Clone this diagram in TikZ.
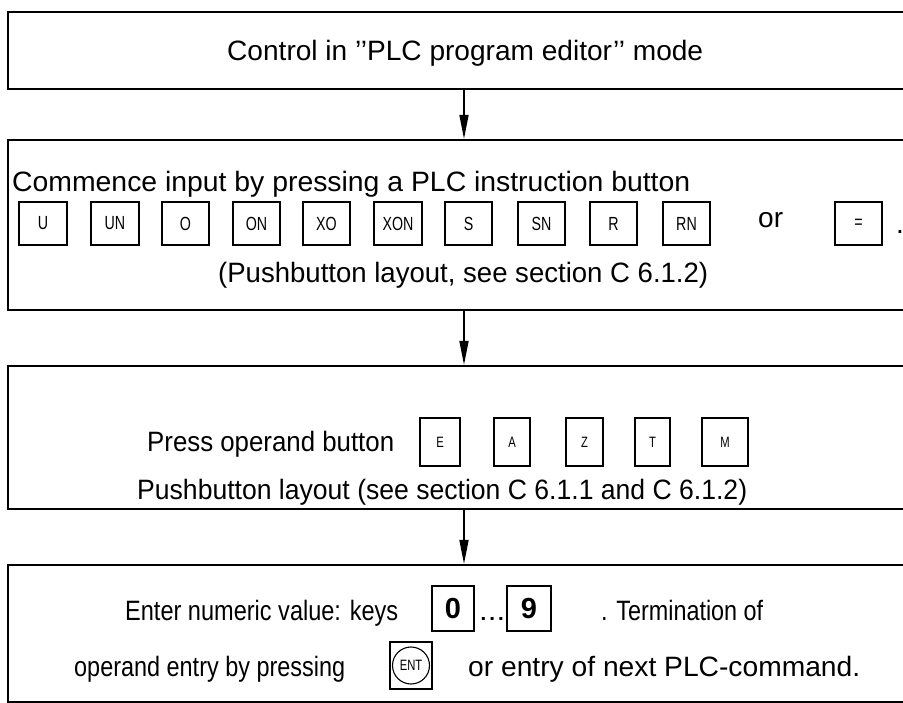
\documentclass[tikz,border=0pt]{standalone}
\usepackage{fontspec}
\setmainfont{Liberation Sans}
\usetikzlibrary{arrows.meta}
\newcommand{\fitw}[2]{\resizebox{#1pt}{\height}{#2}}
\newcommand{\narrow}[1]{\scalebox{0.75}[1]{#1}}
\tikzset{
  stage/.style={draw, line width=2.2pt, rectangle, inner sep=0pt, minimum width=912pt},
  flow/.style={line width=1.8pt, -{Triangle[length=24pt,width=9pt]}},
  txt/.style={anchor=base west, inner sep=0pt, font=\fontsize{28}{30}\selectfont},
  key/.style={draw, line width=1.1pt, rectangle, inner sep=0pt, minimum height=43pt, font=\fontsize{19}{19}\selectfont},
  okey/.style={draw, line width=1.1pt, rectangle, inner sep=0pt, minimum height=48pt, font=\fontsize{15}{15}\selectfont},
  nkey/.style={draw, line width=1.4pt, rectangle, inner sep=0pt, minimum height=45pt, font=\fontsize{29}{29}\selectfont\bfseries},
}
\begin{document}
\begin{tikzpicture}[x=1pt,y=-1pt]
\useasboundingbox[fill=white] (0,0) rectangle (903,703);
\clip (0,0) rectangle (903,703);
% stage boxes
\node[stage, minimum height=77pt]  (b1) at (464,50.5) {};
\node[stage, minimum height=170pt] (b2) at (464,225) {};
\node[stage, minimum height=143pt] (b3) at (464,437.5) {};
\node[stage, minimum height=137pt] (b4) at (464,633.5) {};
% connectors
\draw[flow] (b1.south) -- (b2.north);
\draw[flow] (b2.south) -- (b3.north);
\draw[flow] (b3.south) -- (b4.north);
% box 1
\node[txt] (t1) at (227,61) {\fitw{476}{Control in {'}{'}PLC program editor{'}{'} mode}};
% box 2
\node[txt] (t2a) at (12,192) {\fitw{678}{Commence input by pressing a PLC instruction button}};
\node[key, minimum width=48pt] (kU)   at (43,223.5)    {\narrow{U}};
\node[key, minimum width=48pt] (kUN)  at (115,223.5)   {\narrow{UN}};
\node[key, minimum width=47pt] (kO)   at (185.5,223.5) {\narrow{O}};
\node[key, minimum width=47pt] (kON)  at (256.5,223.5) {\narrow{ON}};
\node[key, minimum width=47pt] (kXO)  at (326.5,223.5) {\narrow{XO}};
\node[key, minimum width=48pt] (kXON) at (398,223.5)   {\narrow{XON}};
\node[key, minimum width=47pt] (kS)   at (468.5,223.5) {\narrow{S}};
\node[key, minimum width=47pt] (kSN)  at (541.5,223.5) {\narrow{SN}};
\node[key, minimum width=47pt] (kR)   at (613.5,223.5) {\narrow{R}};
\node[key, minimum width=47pt] (kRN)  at (686.5,223.5) {\narrow{RN}};
\node[txt] (tor) at (758,228) {\fitw{25}{or}};
\node[key, minimum width=47pt] (kEq)  at (858.5,223.5) {\narrow{=}};
\node[txt] (tdot) at (896,234) {.};
\node[txt] (t2c) at (218,283) {\fitw{490}{(Pushbutton layout, see section C 6.1.2)}};
% box 3
\node[txt] (t3a) at (147,452) {\fitw{247}{Press operand button}};
\node[okey, minimum width=40pt] (kE) at (440,442) {\narrow{E}};
\node[okey, minimum width=36pt] (kA) at (512,442) {\narrow{A}};
\node[okey, minimum width=37pt] (kZ) at (584.5,442) {\narrow{Z}};
\node[okey, minimum width=35pt] (kT) at (652.5,442) {\narrow{T}};
\node[okey, minimum width=46pt] (kM) at (725,442) {\narrow{M}};
\node[txt] (t3b) at (137,499) {\fitw{610}{Pushbutton layout (see section C 6.1.1 and C 6.1.2)}};
% box 4
\node[txt] (t4a) at (125,620) {\fitw{273}{Enter numeric value: keys}};
\node[nkey, minimum width=42pt] (k0) at (453,608.5) {0};
\node[txt] (tdots) at (479,620) {\fitw{26}{.\hfill.\hfill.}};
\node[nkey, minimum width=44pt] (k9) at (529,608.5) {9};
\node[txt] (t4b) at (601,620) {\fitw{162}{. Termination of}};
\node[txt] (t4c) at (74,676) {\fitw{271}{operand entry by pressing}};
\node[draw, line width=1.1pt, rectangle, inner sep=0pt, minimum width=42pt, minimum height=47pt] (kENT) at (411,665.5) {};
\node[draw, line width=1.1pt, circle, inner sep=0pt, minimum size=37pt, font=\fontsize{15}{15}\selectfont] (cENT) at (kENT.center) {\narrow{ENT}};
\node[txt] (t4d) at (468,676) {\fitw{392}{or entry of next PLC-command.}};
\end{tikzpicture}
\end{document}
